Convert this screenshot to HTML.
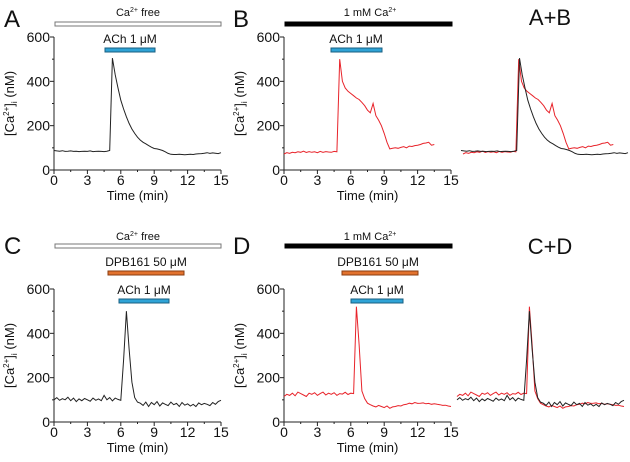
<!DOCTYPE html>
<html><head><meta charset="utf-8"><style>
body{margin:0;background:#fff}
svg{display:block;font-family:"Liberation Sans",sans-serif}
</style></head><body>
<svg id="fig" width="630" height="462" viewBox="0 0 630 462" xmlns="http://www.w3.org/2000/svg"></svg>
<script>
const dt = 0.25;
const xTicks = [0,3,6,9,12,15];
const yTicks = [0,200,400,600];
const seriesA = [88,86,85,87,84,85,86,84,85,83,84,85,84,86,83,84,85,84,83,85,
 88,505,430,370,315,275,240,210,185,165,148,135,125,118,110,103,97,95,92,88,82,75,71,
 70,70,71,70,69,70,71,70,72,73,74,76,78,75,77,76,74,78];
const seriesB = [72,78,75,80,78,82,80,85,79,83,80,82,78,84,80,83,81,80,84,82,
 500,400,370,355,345,335,325,318,305,290,270,258,300,245,225,200,165,125,95,98,
 100,98,102,105,100,108,106,110,112,115,120,122,125,112,115,
 null,null,null,null,null,null];
const seriesC = [100,110,98,105,100,112,96,108,92,104,96,106,100,94,108,98,104,96,120,100,110,95,108,102,98,
 280,500,330,180,110,90,
 85,75,90,70,88,78,92,72,86,80,74,90,78,84,70,88,76,82,72,80,70,86,78,84,80,74,88,80,92,98];
const seriesD = [115,125,120,130,118,135,128,122,115,130,125,132,120,128,135,122,130,125,132,120,128,126,134,124,130,128,
 520,350,140,105,85,78,
 72,68,75,70,65,72,62,68,70,74,72,78,80,85,82,88,84,85,86,82,84,80,82,80,78,75,76,72,70];

const NS='http://www.w3.org/2000/svg';
const svg=document.getElementById('fig');
function el(tag,attrs,parent){const e=document.createElementNS(NS,tag);for(const k in attrs)e.setAttribute(k,attrs[k]);(parent||svg).appendChild(e);return e;}
function txt(x,y,s,size,anchor,name,parent){const t=el('text',{x:x,y:y,'font-size':size,'text-anchor':anchor||'middle',fill:'#111'},parent);t.innerHTML=s;


return t;}
const PX_PER_MIN=167/15, PX_PER_NM=133/600;
function mkX(x0){return t=>x0+t*PX_PER_MIN;}
function mkY(y0){return v=>y0-v*PX_PER_NM;}

function axes(x0,y0,name){
  const g=el('g',{});
  
  
  const X=mkX(x0),Y=mkY(y0);
  el('line',{x1:X(0),y1:y0,x2:X(15),y2:y0,stroke:'#222','stroke-width':1},g);
  el('line',{x1:x0,y1:Y(0),x2:x0,y2:Y(600),stroke:'#222','stroke-width':1},g);
  for(let t=0;t<=15;t+=1.5){const maj=xTicks.includes(t);el('line',{x1:X(t),y1:y0,x2:X(t),y2:y0+(maj?4:2),stroke:'#222'},g);}
  for(let v=0;v<=600;v+=100){const maj=yTicks.includes(v);el('line',{x1:x0,y1:Y(v),x2:x0-(maj?4:2),y2:Y(v),stroke:'#222'},g);}
  xTicks.forEach(t=>txt(X(t),y0+15,String(t),14,'middle','x-tick-label',g));
  yTicks.forEach(v=>txt(x0-4,Y(v)+5,String(v),14,'end','y-tick-label',g));
  txt(X(7.5),y0+30,'Time (min)',13,'middle','x-axis-title',g);
  const yl=txt(0,0,'[Ca<tspan font-size="8" dy="-5">2+</tspan><tspan dy="5">]</tspan><tspan font-size="8" dy="3">i</tspan><tspan dy="-3"> (nM)</tspan>',13,'middle','y-axis-title',g);
  yl.setAttribute('transform','translate('+(x0-40)+','+Y(300)+') rotate(-90)');
}
function trace(data,x0,y0,color,name){
  const X=mkX(x0),Y=mkY(y0);let d='';let pen=false;
  data.forEach((v,i)=>{if(v===null){pen=false;return;}d+=(pen?'L':'M')+X(i*dt).toFixed(1)+' '+Y(v).toFixed(1);pen=true;});
  const p=el('path',{d:d,fill:'none',stroke:color,'stroke-width':1});
  
  
}
function bar(x1,x2,y,fill,stroke,h,name){
  const r=el('rect',{x:x1,y:y-h/2,width:x2-x1,height:h,fill:fill,stroke:stroke,'stroke-width':1});
  
  
}
const RED='#e8232a', BLK='#222';
txt(4,27,'A',24,'start','panel-label-a');
txt(233,27,'B',24,'start','panel-label-b');
txt(550,25,'A+B',22,'middle','panel-label-ab');
txt(4,254,'C',24,'start','panel-label-c');
txt(233,254,'D',24,'start','panel-label-d');
txt(550,254,'C+D',22,'middle','panel-label-cd');

axes(54,170,'axes-a'); axes(284,170,'axes-b');
txt(138,16,'Ca<tspan font-size="7" dy="-4">2+</tspan><tspan dy="4"> free</tspan>',11,'middle','ca-free-label-a');
bar(55,221,24,'#fff','#777',4,'ca-free-bar-a');
txt(130,43,'ACh 1 μM',12,'middle','ach-label-a');
bar(105,155,50,'#2fa3d6','#1a5f80',4,'ach-bar-a');
txt(370,16,'1 mM Ca<tspan font-size="7" dy="-4">2+</tspan>',11,'middle','ca-label-b');
bar(285,452,24,'#000','#000',4,'ca-bar-b');
txt(356,43,'ACh 1 μM',12,'middle','ach-label-b');
bar(331,382,50,'#2fa3d6','#1a5f80',4,'ach-bar-b');
trace(seriesA,54,170,BLK,'trace-a');
trace(seriesB,284,170,RED,'trace-b');
trace(seriesB,463,170,RED,'overlay-ab-red');
trace(seriesA,461,170,BLK,'overlay-ab-black');

axes(54,422,'axes-c'); axes(284,422,'axes-d');
txt(138,240,'Ca<tspan font-size="7" dy="-4">2+</tspan><tspan dy="4"> free</tspan>',11,'middle','ca-free-label-c');
bar(55,221,246,'#fff','#777',4,'ca-free-bar-c');
txt(146,266,'DPB161 50 μM',12,'middle','dpb-label-c');
bar(108,184,273,'#e2722e','#8a3c10',4,'dpb-bar-c');
txt(144,294,'ACh 1 μM',12,'middle','ach-label-c');
bar(119,169,301,'#2fa3d6','#1a5f80',4,'ach-bar-c');
txt(370,240,'1 mM Ca<tspan font-size="7" dy="-4">2+</tspan>',11,'middle','ca-label-d');
bar(285,452,246,'#000','#000',4,'ca-bar-d');
txt(378,266,'DPB161 50 μM',12,'middle','dpb-label-d');
bar(342,418,273,'#e2722e','#8a3c10',4,'dpb-bar-d');
txt(377,294,'ACh 1 μM',12,'middle','ach-label-d');
bar(351,403,301,'#2fa3d6','#1a5f80',4,'ach-bar-d');
trace(seriesC,54,422,BLK,'trace-c');
trace(seriesD,284,422,RED,'trace-d');
trace(seriesD,457,422,RED,'overlay-cd-red');
trace(seriesC,457,422,BLK,'overlay-cd-black');
</script>
</body></html>
